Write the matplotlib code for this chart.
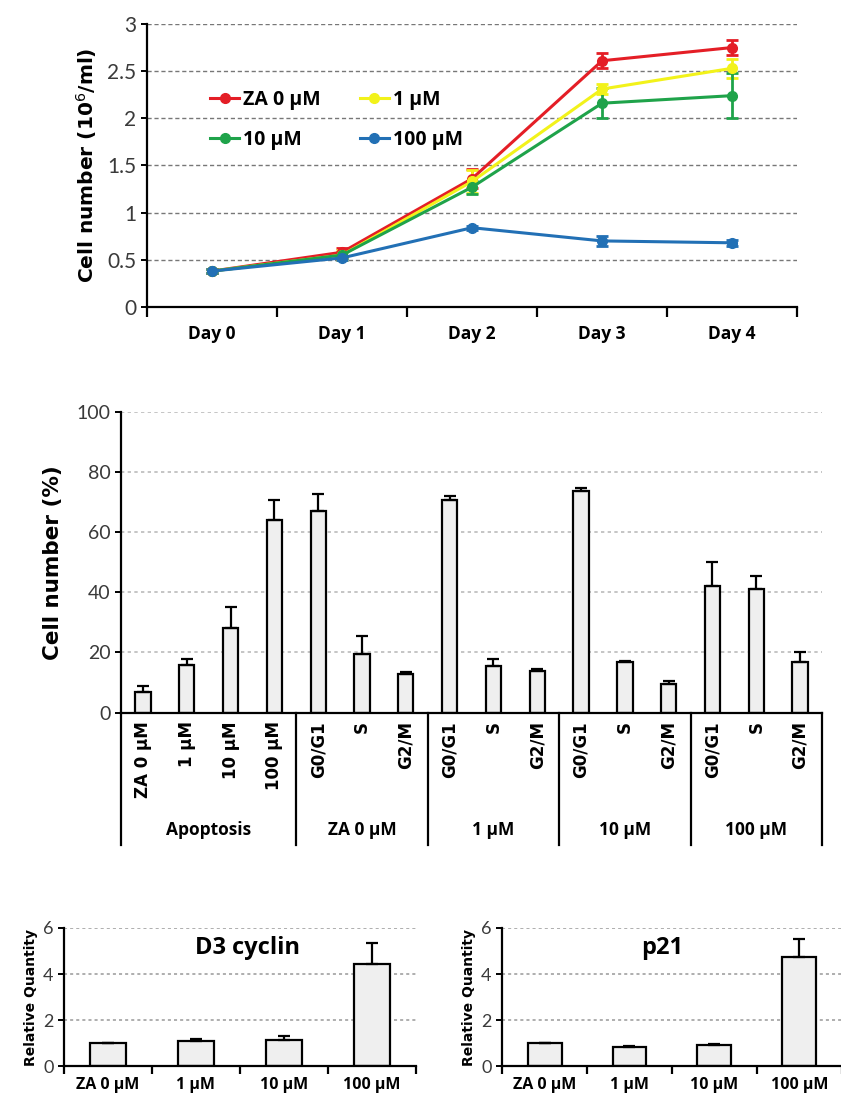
import numpy as np
import matplotlib
matplotlib.use('Agg')
import matplotlib.pyplot as plt
import matplotlib.transforms as mtrans
from matplotlib.lines import Line2D
from matplotlib.ticker import FixedLocator

# ---- data ----
days = ['Day 0', 'Day 1', 'Day 2', 'Day 3', 'Day 4']
series_names = ['ZA 0 µM', '1 µM', '10 µM', '100 µM']
za0 = [0.38, 0.58, 1.36, 2.61, 2.75]
za0_err = [0.02, 0.05, 0.10, 0.08, 0.08]
za1 = [0.38, 0.55, 1.33, 2.31, 2.53]
za1_err = [0.02, 0.05, 0.12, 0.05, 0.10]
za10 = [0.38, 0.55, 1.27, 2.16, 2.24]
za10_err = [0.02, 0.03, 0.07, 0.16, 0.24]
za100 = [0.38, 0.52, 0.84, 0.70, 0.68]
za100_err = [0.02, 0.02, 0.02, 0.05, 0.03]

cc_labels = ['ZA 0 µM', '1 µM', '10 µM', '100 µM',
             'G0/G1', 'S', 'G2/M', 'G0/G1', 'S', 'G2/M',
             'G0/G1', 'S', 'G2/M', 'G0/G1', 'S', 'G2/M']
cc_values = [7, 16, 28, 64, 67, 19.5, 13, 70.5, 15.5, 14,
             73.5, 17, 9.5, 42, 41, 17]
cc_err = [2, 2, 7, 6.5, 5.5, 6, 0.5, 1.5, 2.5, 0.5,
          1, 0.3, 1, 8, 4.5, 3]
group_names = ['Apoptosis', 'ZA 0 µM', '1 µM', '10 µM', '100 µM']
group_sizes = [4, 3, 3, 3, 3]

dose_labels = ['ZA 0 µM', '1 µM', '10 µM', '100 µM']
d3_values = [1.0, 1.1, 1.15, 4.45]
d3_err = [0.0, 0.08, 0.15, 0.9]
p21_values = [1.0, 0.82, 0.92, 4.75]
p21_err = [0.0, 0.05, 0.05, 0.75]

# ---- style ----
plt.rcParams['font.family'] = ['Lato', 'DejaVu Sans']
bold_font = ['Open Sans', 'DejaVu Sans']
wide = ['DejaVu Sans']
tick_gray = '#3a3a3a'
bar_fill = '#efefef'

fig = plt.figure(figsize=(8.41, 10.99), dpi=100)


def style_axes(ax):
    for s in ['top', 'right']:
        ax.spines[s].set_visible(False)
    ax.spines['left'].set_linewidth(1.6)
    ax.spines['bottom'].set_linewidth(1.6)
    ax.tick_params(axis='y', direction='out', length=4, width=1.4,
                   labelcolor=tick_gray)


# ---- top: growth curves ----
ax1 = fig.add_axes([0.1748, 0.7207, 0.773, 0.2575])
style_axes(ax1)
x = np.arange(len(days))
colors = ['#e41e26', '#f2f21a', '#1fa34a', '#2270b5']
handles = []
for vals, err, col in zip([za0, za1, za10, za100],
                          [za0_err, za1_err, za10_err, za100_err], colors):
    ax1.errorbar(x, vals, yerr=err, color=col, lw=2.2, marker='o',
                 ms=7, capsize=4, capthick=2, elinewidth=2)
    handles.append(Line2D([0], [0], color=col, lw=2.2, marker='o', ms=7))
ax1.set_xlim(-0.5, len(days) - 0.5)
ax1.set_ylim(0, 3)
ax1.set_yticks(np.arange(0, 3.01, 0.5))
ax1.set_yticklabels(['0', '0.5', '1', '1.5', '2', '2.5', '3'], fontsize=15)
for yv in np.arange(0.5, 3.01, 0.5):
    ax1.axhline(yv, color='#777777', lw=1, ls=(0, (3, 2)), zorder=0)
ax1.set_xticks(x)
ax1.set_xticklabels(days, fontsize=12.5, fontweight='bold', family=bold_font)
ax1.tick_params(axis='x', which='major', length=0, pad=13)
ax1.xaxis.set_minor_locator(FixedLocator(np.arange(-0.5, len(days), 1)))
ax1.tick_params(axis='x', which='minor', length=7, width=1.6)
ax1.set_ylabel('Cell number (10$^6$/ml)', fontsize=14.5, fontweight='bold',
               family=wide, labelpad=6)
ax1.legend([handles[0], handles[2], handles[1], handles[3]],
           [series_names[0], series_names[2], series_names[1], series_names[3]],
           ncol=2, frameon=False, loc='upper left',
           bbox_to_anchor=(0.07, 0.83), handlelength=1.5,
           handletextpad=0.2, columnspacing=2.0, labelspacing=1.05,
           prop={'family': bold_font, 'weight': 'bold', 'size': 14})

# ---- middle: apoptosis / cell cycle ----
ax2 = fig.add_axes([0.1439, 0.3515, 0.8335, 0.2739])
style_axes(ax2)
xc = np.arange(len(cc_values))
ax2.bar(xc, cc_values, width=0.35, color=bar_fill, edgecolor='black',
        linewidth=1.6, zorder=2)
ax2.errorbar(xc, cc_values, yerr=[np.zeros(len(cc_err)), cc_err],
             fmt='none', ecolor='black', elinewidth=1.6, capsize=4,
             capthick=1.6, zorder=3)
ax2.set_xlim(-0.5, len(cc_values) - 0.5)
ax2.set_ylim(0, 100)
ax2.set_yticks(np.arange(0, 101, 20))
ax2.set_yticklabels([str(v) for v in range(0, 101, 20)], fontsize=14)
for yv in np.arange(20, 101, 20):
    ax2.axhline(yv, color='#bbbbbb', lw=1.2, ls=(0, (2, 2)), zorder=0)
ax2.set_xticks(xc)
ax2.set_xticklabels(cc_labels, rotation=90, fontsize=12, fontweight='bold',
                    family=wide)
ax2.tick_params(axis='x', length=0, pad=6)
ax2.set_ylabel('Cell number (%)', fontsize=15.5, fontweight='bold',
               family=wide, labelpad=10)
trans = mtrans.blended_transform_factory(ax2.transData, ax2.transAxes)
bounds = np.concatenate([[0], np.cumsum(group_sizes)]) - 0.5
for b in bounds:
    ax2.plot([b, b], [0, -0.44], transform=trans, color='black', lw=1.6,
             clip_on=False)
for i, name in enumerate(group_names):
    ax2.text((bounds[i] + bounds[i + 1]) / 2, -0.39, name, transform=trans,
             ha='center', va='center', fontsize=12.5, fontweight='bold',
             family=bold_font)


# ---- bottom: qPCR ----
def qpcr(rect, values, err, title, tx):
    ax = fig.add_axes(rect)
    style_axes(ax)
    xi = np.arange(len(values))
    ax.bar(xi, values, width=0.4, color=bar_fill, edgecolor='black',
           linewidth=1.6, zorder=2)
    ax.errorbar(xi, values, yerr=[np.zeros(len(err)), err], fmt='none',
                ecolor='black', elinewidth=1.6, capsize=4, capthick=1.6,
                zorder=3)
    ax.set_xlim(-0.5, len(values) - 0.5)
    ax.set_ylim(0, 6)
    ax.set_yticks([0, 2, 4, 6])
    ax.set_yticklabels(['0', '2', '4', '6'], fontsize=13)
    for yv in [2, 4, 6]:
        ax.axhline(yv, color='#999999', lw=1.1, ls=(0, (2, 2)), zorder=0)
    ax.set_xticks(xi)
    ax.set_xticklabels(dose_labels, fontsize=11.5, fontweight='bold',
                       family=bold_font)
    ax.tick_params(axis='x', which='major', length=0, pad=8)
    ax.xaxis.set_minor_locator(FixedLocator(np.arange(-0.5, len(values), 1)))
    ax.tick_params(axis='x', which='minor', length=6, width=1.6)
    ax.set_ylabel('Relative Quantity', fontsize=10, fontweight='bold',
                  family=wide, labelpad=4)
    ax.text(tx, 0.855, title, transform=ax.transAxes, ha='center',
            va='center', fontsize=17, fontweight='bold', family=bold_font)
    return ax


qpcr([0.0761, 0.030, 0.4185, 0.1256], d3_values, d3_err, 'D3 cyclin', 0.52)
qpcr([0.597, 0.030, 0.404, 0.1256], p21_values, p21_err, 'p21', 0.47)

fig.savefig('out.png', dpi=100)
